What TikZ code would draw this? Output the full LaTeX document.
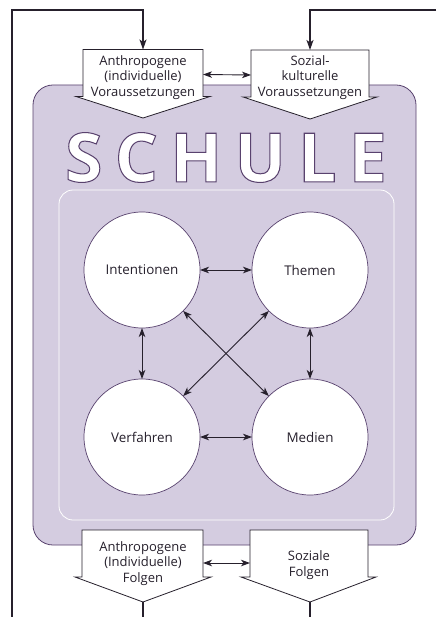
\documentclass[tikz,border=0pt]{standalone}
\usepackage{fontspec}
\setmainfont{Open Sans}
\newfontfamily\schulefont[LetterSpace=18,FakeBold=1.5]{Open Sans}
\usetikzlibrary{arrows.meta,calc}
\definecolor{lav}{RGB}{212,204,224}
\definecolor{boxline}{RGB}{88,66,110}
\definecolor{ink}{RGB}{38,32,44}
\pgfdeclarelayer{background}
\pgfsetlayers{background,main}
\begin{document}
\begin{tikzpicture}[x=1pt,y=-1pt,
  conn/.style={draw=ink,line width=0.9pt,{Stealth[length=9pt,width=6.5pt,inset=2.5pt]}-{Stealth[length=9pt,width=6.5pt,inset=2.5pt]}},
  feed/.style={draw=ink,line width=1.3pt,line join=miter},
  feedarrow/.style={feed,-{Stealth[length=10pt,width=7pt,inset=2.5pt]}},
  circ/.style={circle,draw=boxline,line width=0.7pt,fill=white,minimum size=116pt,inner sep=0pt,outer sep=0pt,
    font=\fontsize{13.4}{15.5}\selectfont,text=ink},
  blk/.style={minimum width=#1,minimum height=47pt,inner sep=0pt,outer sep=0pt},
  lbl/.style={align=center,font=\fontsize{13}{15.8}\selectfont,text=ink,inner sep=0pt},
  pent/.style={draw=ink,fill=white,line width=0.8pt,line join=miter},
]
\useasboundingbox (0,0) rectangle (436,617);

% invisible frames of the four block arrows
\node[blk=120pt] (al) at (143,73) {};
\node[blk=118pt] (sk) at (310,73.5) {};
\node[blk=121pt] (bl) at (142.5,553.5) {};
\node[blk=118pt] (bs) at (309,553.5) {};
\coordinate (alTip) at (143,118);
\coordinate (skTip) at (310,119);
\coordinate (blTip) at (143,602);
\coordinate (bsTip) at (310,602);

\begin{pgfonlayer}{background}
  \fill[white] (0,0) rectangle (436,617);
  \draw[draw=boxline,fill=lav,line width=0.8pt,rounded corners=20pt] (33,85) rectangle (416,545);
  \draw[white,line width=0.8pt,rounded corners=14pt] (59,190) rectangle (394,520);
  \draw[pent] (al.north west) -- (al.north east) -- (al.south east) -- ++(7,0) -- (alTip)
     -- ($(al.south west)+(-7,0)$) -- (al.south west) -- cycle;
  \draw[pent] (sk.north west) -- (sk.north east) -- (sk.south east) -- ++(8,0) -- (skTip)
     -- ($(sk.south west)+(-8,0)$) -- (sk.south west) -- cycle;
  \draw[pent] (bl.north west) -- (bl.north east) -- (bl.south east) -- ++(8,0) -- (blTip)
     -- ($(bl.south west)+(-7,0)$) -- (bl.south west) -- cycle;
  \draw[pent] (bs.north west) -- (bs.north east) -- (bs.south east) -- ++(8,0) -- (bsTip)
     -- ($(bs.south west)+(-9,0)$) -- (bs.south west) -- cycle;
\end{pgfonlayer}

% texts of the block arrows
\node[lbl] (alT) at (143,77.5) {Anthropogene\\(individuelle)\\Voraussetzungen};
\node[lbl] (skT) at (310,77.5) {Sozial-\\kulturelle\\Voraussetzungen};
\node[lbl] (blT) at (143,563.5) {Anthropogene\\(Individuelle)\\Folgen};
\node[lbl] (bsT) at (309,565) {Soziale\\Folgen};

% SCHULE
\node[inner sep=0pt] (schule) at (226,157.5)
  {\fontsize{68}{68}\selectfont\schulefont\bfseries\color{white}\special{pdf:literal direct 0.35 0.26 0.43 RG}SCHULE};

% circles
\node[circ] (int) at (142,270) {Intentionen};
\node[circ] (the) at (310,270) {Themen};
\node[circ] (ver) at (142,437) {Verfahren};
\node[circ] (med) at (310,437) {Medien};

\draw[conn] (int) -- (the);
\draw[conn] (ver) -- (med);
\draw[conn] (int) -- (ver);
\draw[conn] (the) -- (med);
\draw[conn] (int) -- (med);
\draw[conn] (the) -- (ver);

% arrows between the block arrows
\draw[conn] ([yshift=-1.5pt]al.east) -- ([yshift=-1.5pt]sk.west);
\draw[conn] ([yshift=-9.5pt]bl.east) -- ([yshift=-9.5pt]bs.west);

% feedback lines
\coordinate (cTL) at (12,10);
\coordinate (cBL) at (12,617);
\coordinate (cTR) at (436,10);
\coordinate (cBLo) at (143,617);
\coordinate (cBRo) at (310,617);
\draw[feedarrow] (cBL) -- (cTL) -| (al.north);
\draw[feedarrow] (cTR) -| (sk.north);
\draw[feed] (blTip) -- (cBLo);
\draw[feed] (bsTip) -- (cBRo);
\end{tikzpicture}
\end{document}
